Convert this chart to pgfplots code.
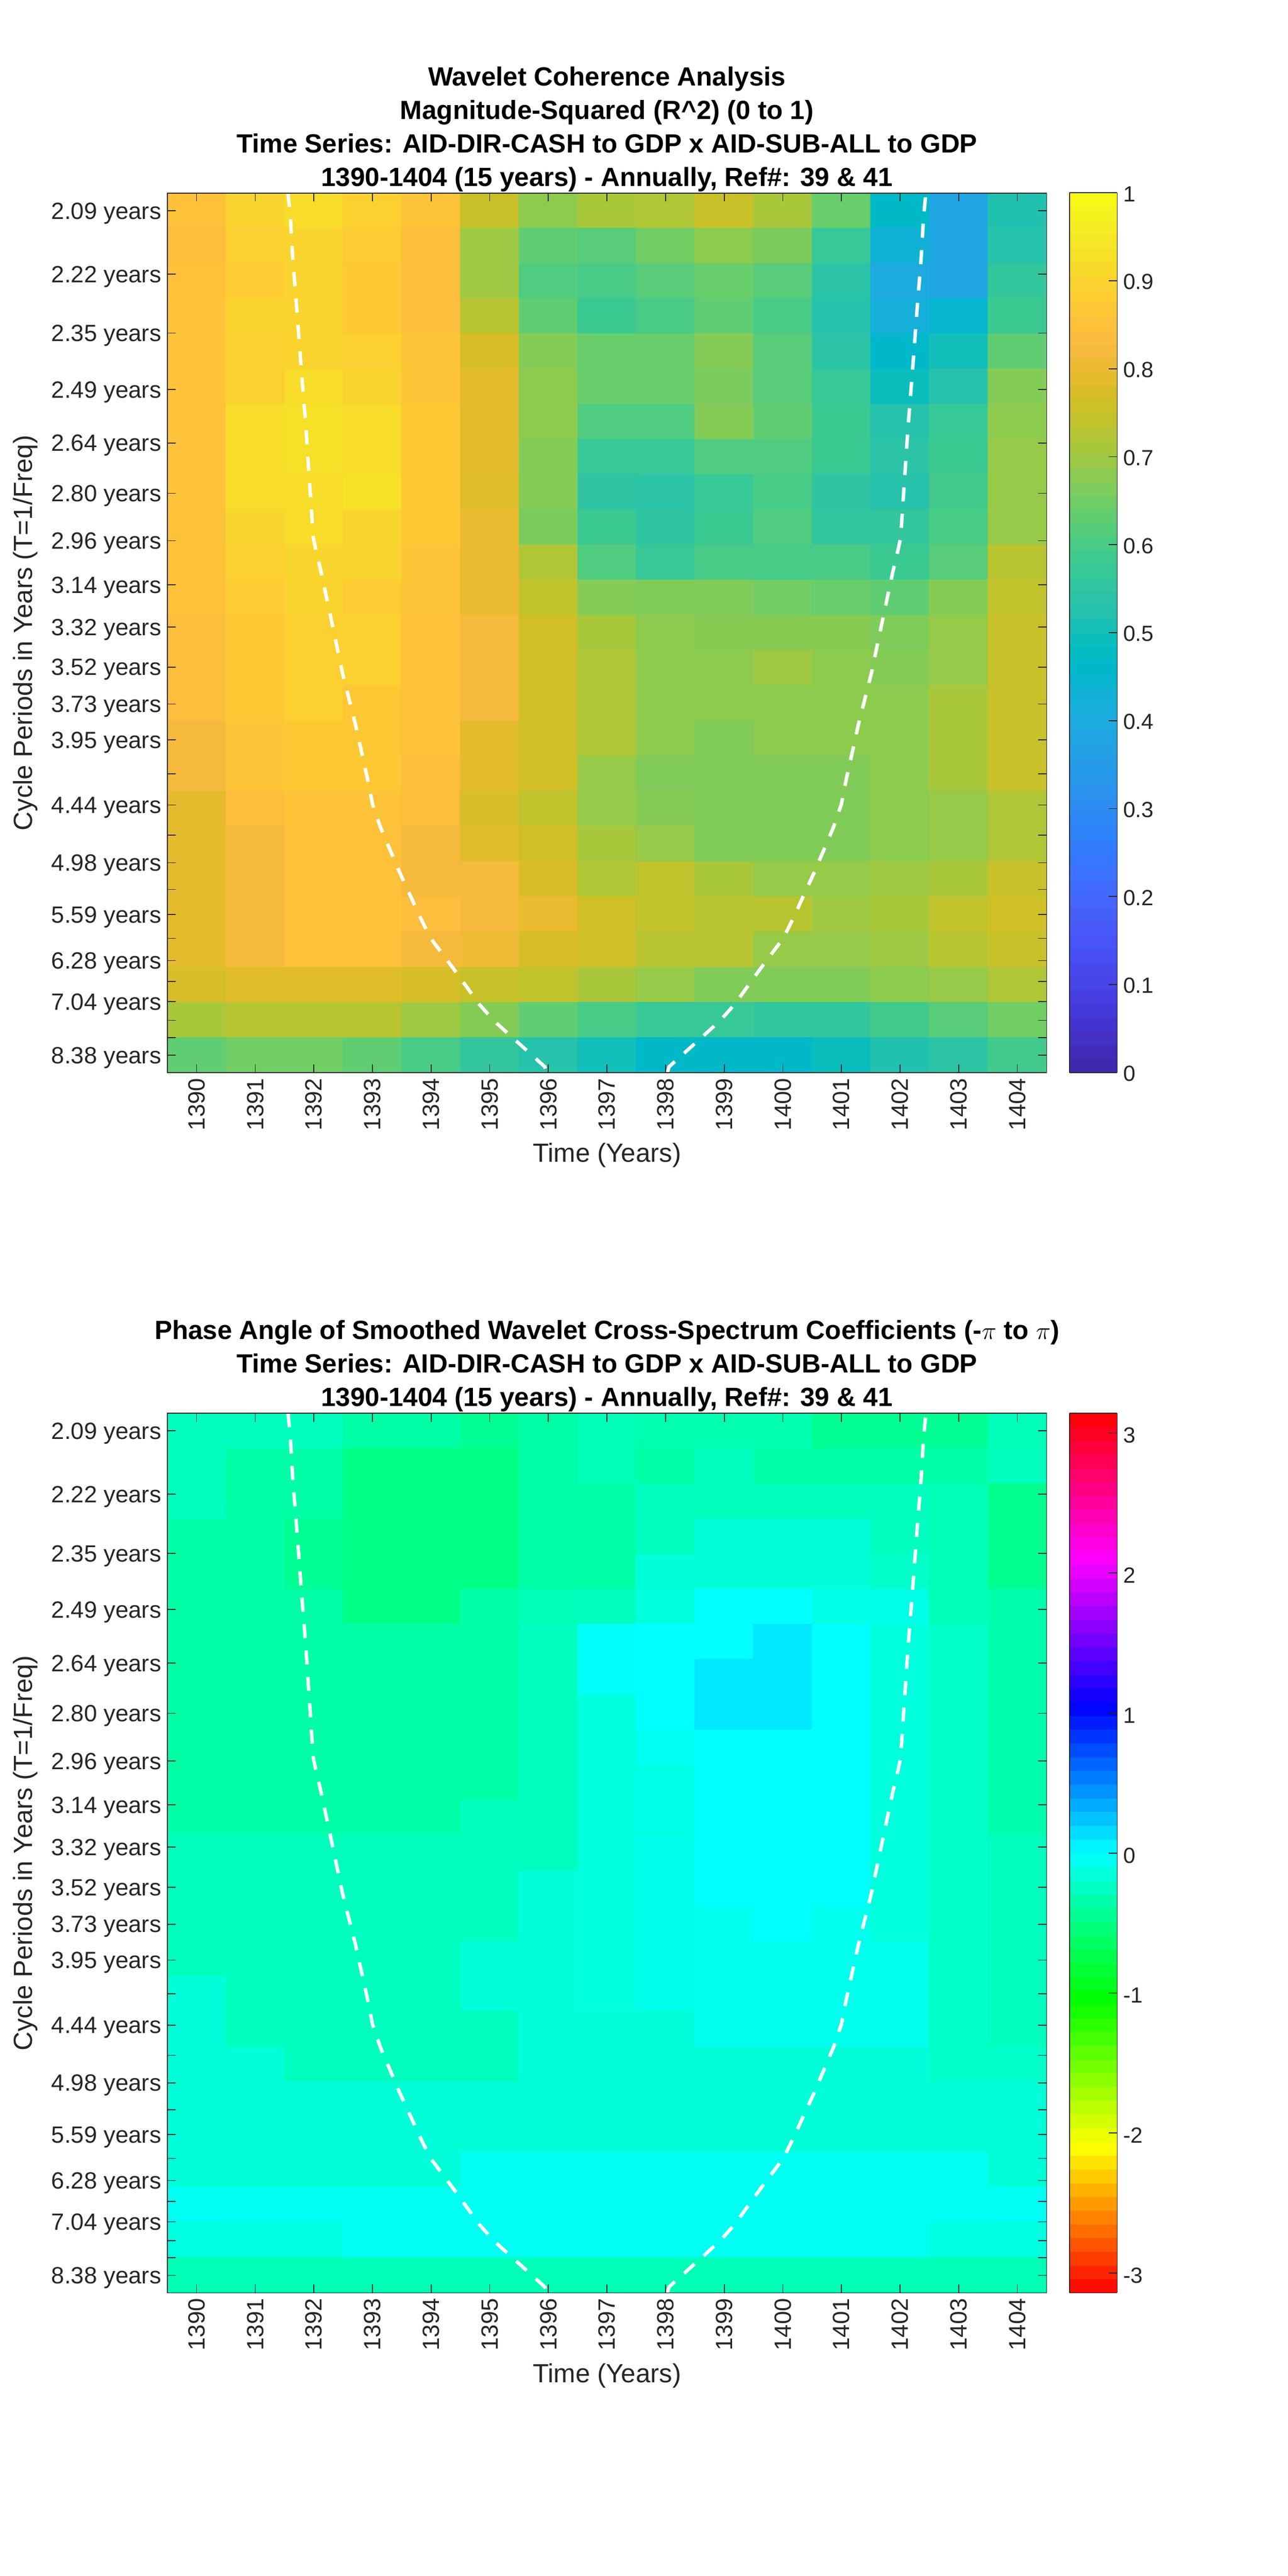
\documentclass[border=0pt]{standalone}
\usepackage{fontspec}
\setmainfont{Liberation Sans}
\usepackage{pgfplots}
\pgfplotsset{compat=1.18}
\newcommand\tf{\fontsize{13.7}{16}\selectfont}
\newcommand\cf{\fontsize{12.8}{15}\selectfont}
\newcommand\lf{\fontsize{15.3}{18}\selectfont}
\newcommand\hf{\fontsize{15.34}{19.5}\selectfont\bfseries}
\definecolor{axc}{gray}{0.15}
\pgfplotsset{
 colormap={parulaM}{rgb=(0.2422,0.1504,0.6603) rgb=(0.2504,0.1650,0.7076) rgb=(0.2578,0.1818,0.7511) rgb=(0.2647,0.1978,0.7952) rgb=(0.2706,0.2147,0.8364) rgb=(0.2751,0.2342,0.8710) rgb=(0.2783,0.2559,0.8991) rgb=(0.2803,0.2782,0.9221) rgb=(0.2813,0.3006,0.9414) rgb=(0.2810,0.3228,0.9579) rgb=(0.2795,0.3447,0.9717) rgb=(0.2760,0.3667,0.9829) rgb=(0.2699,0.3892,0.9906) rgb=(0.2602,0.4123,0.9952) rgb=(0.2440,0.4358,0.9988) rgb=(0.2206,0.4603,0.9973) rgb=(0.1963,0.4847,0.9892) rgb=(0.1834,0.5074,0.9798) rgb=(0.1786,0.5289,0.9682) rgb=(0.1764,0.5499,0.9520) rgb=(0.1687,0.5703,0.9359) rgb=(0.1540,0.5902,0.9218) rgb=(0.1460,0.6091,0.9079) rgb=(0.1380,0.6276,0.8973) rgb=(0.1248,0.6459,0.8883) rgb=(0.1113,0.6635,0.8763) rgb=(0.0952,0.6798,0.8598) rgb=(0.0689,0.6948,0.8394) rgb=(0.0297,0.7082,0.8163) rgb=(0.0036,0.7203,0.7917) rgb=(0.0067,0.7312,0.7660) rgb=(0.0433,0.7411,0.7394) rgb=(0.0964,0.7500,0.7120) rgb=(0.1408,0.7584,0.6842) rgb=(0.1717,0.7670,0.6554) rgb=(0.1938,0.7758,0.6251) rgb=(0.2161,0.7843,0.5923) rgb=(0.2470,0.7918,0.5567) rgb=(0.2906,0.7973,0.5188) rgb=(0.3406,0.8008,0.4789) rgb=(0.3909,0.8029,0.4354) rgb=(0.4456,0.8024,0.3909) rgb=(0.5044,0.7993,0.3480) rgb=(0.5616,0.7942,0.3045) rgb=(0.6174,0.7876,0.2612) rgb=(0.6720,0.7793,0.2227) rgb=(0.7242,0.7698,0.1910) rgb=(0.7738,0.7598,0.1646) rgb=(0.8203,0.7498,0.1535) rgb=(0.8634,0.7406,0.1596) rgb=(0.9035,0.7330,0.1774) rgb=(0.9393,0.7288,0.2100) rgb=(0.9728,0.7298,0.2394) rgb=(0.9956,0.7434,0.2371) rgb=(0.9970,0.7659,0.2199) rgb=(0.9952,0.7893,0.2028) rgb=(0.9892,0.8136,0.1885) rgb=(0.9786,0.8386,0.1766) rgb=(0.9676,0.8639,0.1643) rgb=(0.9610,0.8890,0.1537) rgb=(0.9597,0.9135,0.1423) rgb=(0.9628,0.9373,0.1265) rgb=(0.9691,0.9606,0.1064) rgb=(0.9769,0.9839,0.0805)},
 colormap={hsvM}{rgb=(1,0,0) rgb=(1,1,0) rgb=(0,1,0) rgb=(0,1,1) rgb=(0,0,1) rgb=(1,0,1) rgb=(1,0,0)},
 wave/.style={
  scale only axis, width=512.2pt, height=512.4pt, anchor=south west, axis on top,
  xmin=1389.5, xmax=1404.5, ymin=-0.5, ymax=24.5, y dir=reverse,
  xtick={1390,1391,1392,1393,1394,1395,1396,1397,1398,1399,1400,1401,1402,1403,1404},
  xticklabels={1390,1391,1392,1393,1394,1395,1396,1397,1398,1399,1400,1401,1402,1403,1404},
  ytick={0,1.80,3.48,5.08,6.60,8.03,9.38,10.63,11.83,12.97,14.02,15.04,16.0,16.89,17.75,18.53,19.29,20.0,20.68,21.31,21.90,22.48,23.01,23.5,24},
  yticklabels={2.09 years,2.22 years,2.35 years,2.49 years,2.64 years,2.80 years,2.96 years,3.14 years,3.32 years,3.52 years,3.73 years,3.95 years,,4.44 years,,4.98 years,,5.59 years,,6.28 years,,7.04 years,,,8.38 years},
  tick align=inside, tickwidth=5pt, tick style={axc,line width=0.5pt}, axis line style={axc,line width=0.55pt},
  xticklabel pos=lower, yticklabel pos=left,
  tick label style={font=\tf,text=axc},
  xticklabel style={rotate=90,anchor=east,xshift=0.4pt},
  yticklabel style={yshift=-1.5pt},
  label style={font=\lf,text=axc},
  xlabel={Time (Years)}, ylabel={Cycle Periods in Years (T=1/Freq)},
  xlabel style={at={(axis description cs:0.5,-0.094)},anchor=center},
  ylabel style={at={(axis description cs:-0.1614,0.5)},anchor=center},
  title style={align=center,font=\hf,text=black,at={(axis description cs:0.5,1)},anchor=south,yshift=-8.6pt},
 },
 cbar/.style={
  samples=65, scale only axis, width=27.84pt, height=512.4pt, y dir=normal,
  tick align=inside, tickwidth=5pt, tick style={axc,line width=0.5pt}, axis line style={axc,line width=0.55pt},
  ytick pos=right, yticklabel pos=right, xtick=\empty,
  tick label style={font=\cf,text=axc},
  yticklabel style={yshift=-0.7pt},
 },
 colorbar shift/.style={xshift=0pt},
 coi/.style={white,line width=2pt,dash pattern=on 8.2pt off 7.2pt},
}
\begin{document}
\begin{tikzpicture}
\useasboundingbox (0,0) rectangle (750pt,1500.48pt);
\begin{axis}[wave, at={(97.44pt,875.6pt)}, colormap name=parulaM, point meta min=0, point meta max=1,
 title={Wavelet Coherence Analysis\\Magnitude-Squared (R\^{}2) (0 to 1)\\Time Series: AID-DIR-CASH to GDP x AID-SUB-ALL to GDP\\1390-1404 (15 years) - Annually, Ref\#: 39 \& 41}]
\addplot[matrix plot*, mesh/cols=15, point meta=explicit] table[row sep=\\, header=false, x expr={1389.5+mod(\coordindex+0.5,15)}, y expr={floor((\coordindex+0.5)/15)}, meta index=0] {
0.85\\0.90\\0.92\\0.89\\0.86\\0.75\\0.68\\0.71\\0.72\\0.75\\0.71\\0.64\\0.47\\0.385\\0.52\\
0.84\\0.89\\0.90\\0.88\\0.84\\0.70\\0.63\\0.62\\0.65\\0.68\\0.66\\0.57\\0.43\\0.385\\0.53\\
0.85\\0.88\\0.90\\0.87\\0.84\\0.70\\0.61\\0.60\\0.62\\0.64\\0.62\\0.54\\0.40\\0.385\\0.56\\
0.855\\0.90\\0.90\\0.87\\0.84\\0.73\\0.63\\0.58\\0.60\\0.63\\0.60\\0.53\\0.42\\0.45\\0.58\\
0.855\\0.89\\0.90\\0.89\\0.86\\0.77\\0.67\\0.64\\0.64\\0.67\\0.62\\0.54\\0.46\\0.50\\0.63\\
0.855\\0.89\\0.92\\0.90\\0.86\\0.79\\0.68\\0.64\\0.64\\0.66\\0.62\\0.57\\0.49\\0.53\\0.67\\
0.855\\0.92\\0.93\\0.92\\0.87\\0.79\\0.68\\0.61\\0.61\\0.67\\0.63\\0.58\\0.53\\0.57\\0.68\\
0.855\\0.92\\0.93\\0.92\\0.87\\0.79\\0.67\\0.57\\0.57\\0.61\\0.61\\0.58\\0.54\\0.58\\0.69\\
0.855\\0.92\\0.92\\0.93\\0.87\\0.78\\0.67\\0.55\\0.54\\0.57\\0.60\\0.55\\0.53\\0.59\\0.69\\
0.85\\0.905\\0.92\\0.905\\0.87\\0.80\\0.66\\0.58\\0.55\\0.58\\0.61\\0.56\\0.56\\0.60\\0.69\\
0.85\\0.89\\0.905\\0.90\\0.86\\0.80\\0.72\\0.61\\0.57\\0.60\\0.60\\0.60\\0.58\\0.62\\0.73\\
0.85\\0.88\\0.90\\0.88\\0.86\\0.80\\0.74\\0.67\\0.665\\0.665\\0.65\\0.64\\0.63\\0.67\\0.74\\
0.84\\0.87\\0.89\\0.89\\0.85\\0.82\\0.76\\0.71\\0.68\\0.675\\0.675\\0.675\\0.665\\0.69\\0.75\\
0.84\\0.87\\0.89\\0.89\\0.85\\0.82\\0.76\\0.72\\0.68\\0.68\\0.70\\0.68\\0.67\\0.69\\0.75\\
0.84\\0.87\\0.89\\0.87\\0.85\\0.82\\0.76\\0.72\\0.68\\0.68\\0.68\\0.68\\0.68\\0.71\\0.75\\
0.82\\0.86\\0.87\\0.87\\0.85\\0.79\\0.76\\0.72\\0.68\\0.667\\0.68\\0.68\\0.68\\0.71\\0.75\\
0.82\\0.86\\0.87\\0.87\\0.84\\0.79\\0.76\\0.69\\0.667\\0.667\\0.667\\0.667\\0.68\\0.71\\0.75\\
0.79\\0.84\\0.855\\0.855\\0.84\\0.77\\0.74\\0.69\\0.672\\0.667\\0.667\\0.667\\0.68\\0.69\\0.72\\
0.79\\0.82\\0.85\\0.85\\0.82\\0.78\\0.76\\0.71\\0.69\\0.667\\0.667\\0.667\\0.68\\0.69\\0.72\\
0.79\\0.82\\0.85\\0.85\\0.82\\0.82\\0.77\\0.72\\0.74\\0.71\\0.69\\0.69\\0.70\\0.71\\0.75\\
0.79\\0.82\\0.85\\0.85\\0.84\\0.82\\0.80\\0.76\\0.74\\0.73\\0.73\\0.70\\0.71\\0.74\\0.76\\
0.79\\0.82\\0.85\\0.85\\0.82\\0.81\\0.77\\0.76\\0.73\\0.73\\0.69\\0.69\\0.70\\0.73\\0.75\\
0.77\\0.78\\0.78\\0.78\\0.77\\0.75\\0.74\\0.71\\0.69\\0.667\\0.667\\0.667\\0.68\\0.69\\0.72\\
0.71\\0.73\\0.73\\0.73\\0.70\\0.67\\0.63\\0.60\\0.57\\0.57\\0.56\\0.56\\0.59\\0.62\\0.65\\
0.63\\0.65\\0.65\\0.63\\0.60\\0.56\\0.53\\0.50\\0.47\\0.465\\0.465\\0.49\\0.52\\0.54\\0.59\\
};
\addplot[coi] coordinates {(1391.56,-0.5)(1391.6,0.2)(1391.64,1.35)(1391.71,2.81)(1391.78,4.38)(1391.86,6.06)(1391.94,8.04)(1391.99,9.29)(1392.03,9.61)(1392.12,10.24)(1392.28,11.49)(1392.49,13.15)(1392.71,14.6)(1392.92,16.18)(1393.0,16.86)(1393.14,17.54)(1393.46,18.79)(1393.82,20.1)(1393.99,20.67)(1394.39,21.56)(1394.82,22.55)(1395.07,23.02)(1395.94,24.33)(1395.97,24.5)};
\addplot[coi] coordinates {(1398.03,24.5)(1398.06,24.33)(1398.93,23.02)(1399.18,22.55)(1399.61,21.56)(1400.01,20.67)(1400.18,20.1)(1400.54,18.79)(1400.86,17.54)(1401.0,16.86)(1401.08,16.18)(1401.29,14.6)(1401.51,13.15)(1401.72,11.49)(1401.88,10.24)(1401.97,9.61)(1402.01,9.29)(1402.06,8.04)(1402.14,6.06)(1402.22,4.38)(1402.29,2.81)(1402.36,1.35)(1402.4,0.2)(1402.44,-0.5)};
\end{axis}
\begin{axis}[wave, at={(97.44pt,164.9pt)}, colormap name=hsvM, point meta min=-3.14159, point meta max=3.14159,
 title={Phase Angle of Smoothed Wavelet Cross-Spectrum Coefficients (-$\pi$ to $\pi$)\\Time Series: AID-DIR-CASH to GDP x AID-SUB-ALL to GDP\\1390-1404 (15 years) - Annually, Ref\#: 39 \& 41}]
\addplot[matrix plot*, mesh/cols=15, point meta=explicit] table[row sep=\\, header=false, x expr={1389.5+mod(\coordindex+0.5,15)}, y expr={floor((\coordindex+0.5)/15)}, meta index=0] {
-0.26\\-0.26\\-0.26\\-0.36\\-0.36\\-0.44\\-0.36\\-0.30\\-0.33\\-0.33\\-0.33\\-0.44\\-0.44\\-0.44\\-0.28\\
-0.26\\-0.36\\-0.36\\-0.50\\-0.50\\-0.50\\-0.36\\-0.30\\-0.36\\-0.26\\-0.36\\-0.36\\-0.36\\-0.36\\-0.26\\
-0.26\\-0.36\\-0.36\\-0.50\\-0.50\\-0.50\\-0.36\\-0.36\\-0.26\\-0.26\\-0.26\\-0.26\\-0.26\\-0.30\\-0.46\\
-0.36\\-0.36\\-0.44\\-0.50\\-0.50\\-0.50\\-0.36\\-0.36\\-0.26\\-0.16\\-0.16\\-0.16\\-0.26\\-0.30\\-0.46\\
-0.36\\-0.36\\-0.44\\-0.50\\-0.50\\-0.50\\-0.36\\-0.36\\-0.16\\-0.16\\-0.16\\-0.16\\-0.22\\-0.30\\-0.46\\
-0.36\\-0.36\\-0.36\\-0.50\\-0.50\\-0.36\\-0.28\\-0.26\\-0.14\\0\\0\\-0.10\\-0.10\\-0.30\\-0.34\\
-0.36\\-0.36\\-0.36\\-0.36\\-0.36\\-0.36\\-0.26\\-0.02\\0\\0\\0.10\\0\\-0.14\\-0.22\\-0.34\\
-0.36\\-0.36\\-0.36\\-0.36\\-0.36\\-0.36\\-0.26\\-0.02\\0\\0.10\\0.10\\0\\-0.14\\-0.22\\-0.34\\
-0.36\\-0.36\\-0.36\\-0.36\\-0.36\\-0.36\\-0.26\\-0.14\\0\\0.10\\0.10\\0\\-0.14\\-0.22\\-0.34\\
-0.36\\-0.36\\-0.36\\-0.36\\-0.36\\-0.36\\-0.26\\-0.14\\-0.05\\0\\0\\0\\-0.14\\-0.22\\-0.34\\
-0.36\\-0.36\\-0.36\\-0.36\\-0.36\\-0.36\\-0.26\\-0.14\\-0.10\\0\\0\\0\\-0.14\\-0.22\\-0.34\\
-0.36\\-0.36\\-0.36\\-0.36\\-0.36\\-0.26\\-0.26\\-0.14\\-0.10\\0\\0\\0\\-0.14\\-0.22\\-0.34\\
-0.26\\-0.26\\-0.26\\-0.26\\-0.26\\-0.26\\-0.26\\-0.14\\-0.08\\0\\0\\0\\-0.14\\-0.22\\-0.26\\
-0.26\\-0.26\\-0.26\\-0.26\\-0.26\\-0.26\\-0.16\\-0.14\\-0.08\\0\\0\\0\\-0.14\\-0.22\\-0.26\\
-0.26\\-0.26\\-0.26\\-0.26\\-0.26\\-0.26\\-0.16\\-0.14\\-0.08\\-0.07\\0\\-0.07\\-0.14\\-0.22\\-0.26\\
-0.26\\-0.26\\-0.26\\-0.26\\-0.26\\-0.16\\-0.16\\-0.14\\-0.08\\-0.07\\-0.07\\-0.07\\-0.07\\-0.22\\-0.26\\
-0.16\\-0.26\\-0.26\\-0.26\\-0.26\\-0.16\\-0.16\\-0.14\\-0.08\\-0.07\\-0.07\\-0.07\\-0.07\\-0.22\\-0.26\\
-0.16\\-0.26\\-0.26\\-0.26\\-0.26\\-0.26\\-0.16\\-0.16\\-0.16\\-0.07\\-0.07\\-0.07\\-0.07\\-0.22\\-0.26\\
-0.16\\-0.16\\-0.26\\-0.26\\-0.26\\-0.26\\-0.16\\-0.16\\-0.16\\-0.16\\-0.16\\-0.16\\-0.16\\-0.22\\-0.22\\
-0.16\\-0.16\\-0.16\\-0.16\\-0.16\\-0.16\\-0.16\\-0.16\\-0.16\\-0.16\\-0.16\\-0.16\\-0.16\\-0.16\\-0.16\\
-0.16\\-0.16\\-0.16\\-0.16\\-0.16\\-0.16\\-0.16\\-0.16\\-0.16\\-0.16\\-0.16\\-0.16\\-0.16\\-0.16\\-0.16\\
-0.16\\-0.16\\-0.16\\-0.16\\-0.16\\-0.05\\-0.05\\-0.05\\-0.05\\-0.05\\-0.05\\-0.05\\-0.05\\-0.05\\-0.16\\
-0.05\\-0.05\\-0.05\\-0.05\\-0.05\\-0.05\\-0.05\\-0.05\\-0.05\\-0.05\\-0.05\\-0.05\\-0.05\\-0.05\\-0.05\\
-0.12\\-0.12\\-0.12\\-0.05\\-0.05\\-0.05\\-0.05\\-0.05\\-0.05\\-0.05\\-0.05\\-0.05\\-0.05\\-0.12\\-0.12\\
-0.30\\-0.30\\-0.30\\-0.30\\-0.30\\-0.30\\-0.30\\-0.30\\-0.30\\-0.30\\-0.30\\-0.30\\-0.30\\-0.30\\-0.30\\
};
\addplot[coi] coordinates {(1391.56,-0.5)(1391.6,0.2)(1391.64,1.35)(1391.71,2.81)(1391.78,4.38)(1391.86,6.06)(1391.94,8.04)(1391.99,9.29)(1392.03,9.61)(1392.12,10.24)(1392.28,11.49)(1392.49,13.15)(1392.71,14.6)(1392.92,16.18)(1393.0,16.86)(1393.14,17.54)(1393.46,18.79)(1393.82,20.1)(1393.99,20.67)(1394.39,21.56)(1394.82,22.55)(1395.07,23.02)(1395.94,24.33)(1395.97,24.5)};
\addplot[coi] coordinates {(1398.03,24.5)(1398.06,24.33)(1398.93,23.02)(1399.18,22.55)(1399.61,21.56)(1400.01,20.67)(1400.18,20.1)(1400.54,18.79)(1400.86,17.54)(1401.0,16.86)(1401.08,16.18)(1401.29,14.6)(1401.51,13.15)(1401.72,11.49)(1401.88,10.24)(1401.97,9.61)(1402.01,9.29)(1402.06,8.04)(1402.14,6.06)(1402.22,4.38)(1402.29,2.81)(1402.36,1.35)(1402.4,0.2)(1402.44,-0.5)};
\end{axis}
\pgfplotscolorbardrawstandalone[colormap name=parulaM, colorbar sampled, point meta min=0, point meta max=1, colorbar style={cbar, at={(622.9pt,1388.16pt)}, anchor=north west, ytick={0,0.1,0.2,0.3,0.4,0.5,0.6,0.7,0.8,0.9,1}, yticklabels={0,0.1,0.2,0.3,0.4,0.5,0.6,0.7,0.8,0.9,1}}]
\pgfplotscolorbardrawstandalone[colormap name=hsvM, colorbar sampled, point meta min=-3.14159, point meta max=3.14159, colorbar style={cbar, at={(622.9pt,677.3pt)}, anchor=north west, ytick={-3,-2,-1,0,1,2,3}, yticklabels={-3,-2,-1,0,1,2,3}}]
\end{tikzpicture}
\end{document}
